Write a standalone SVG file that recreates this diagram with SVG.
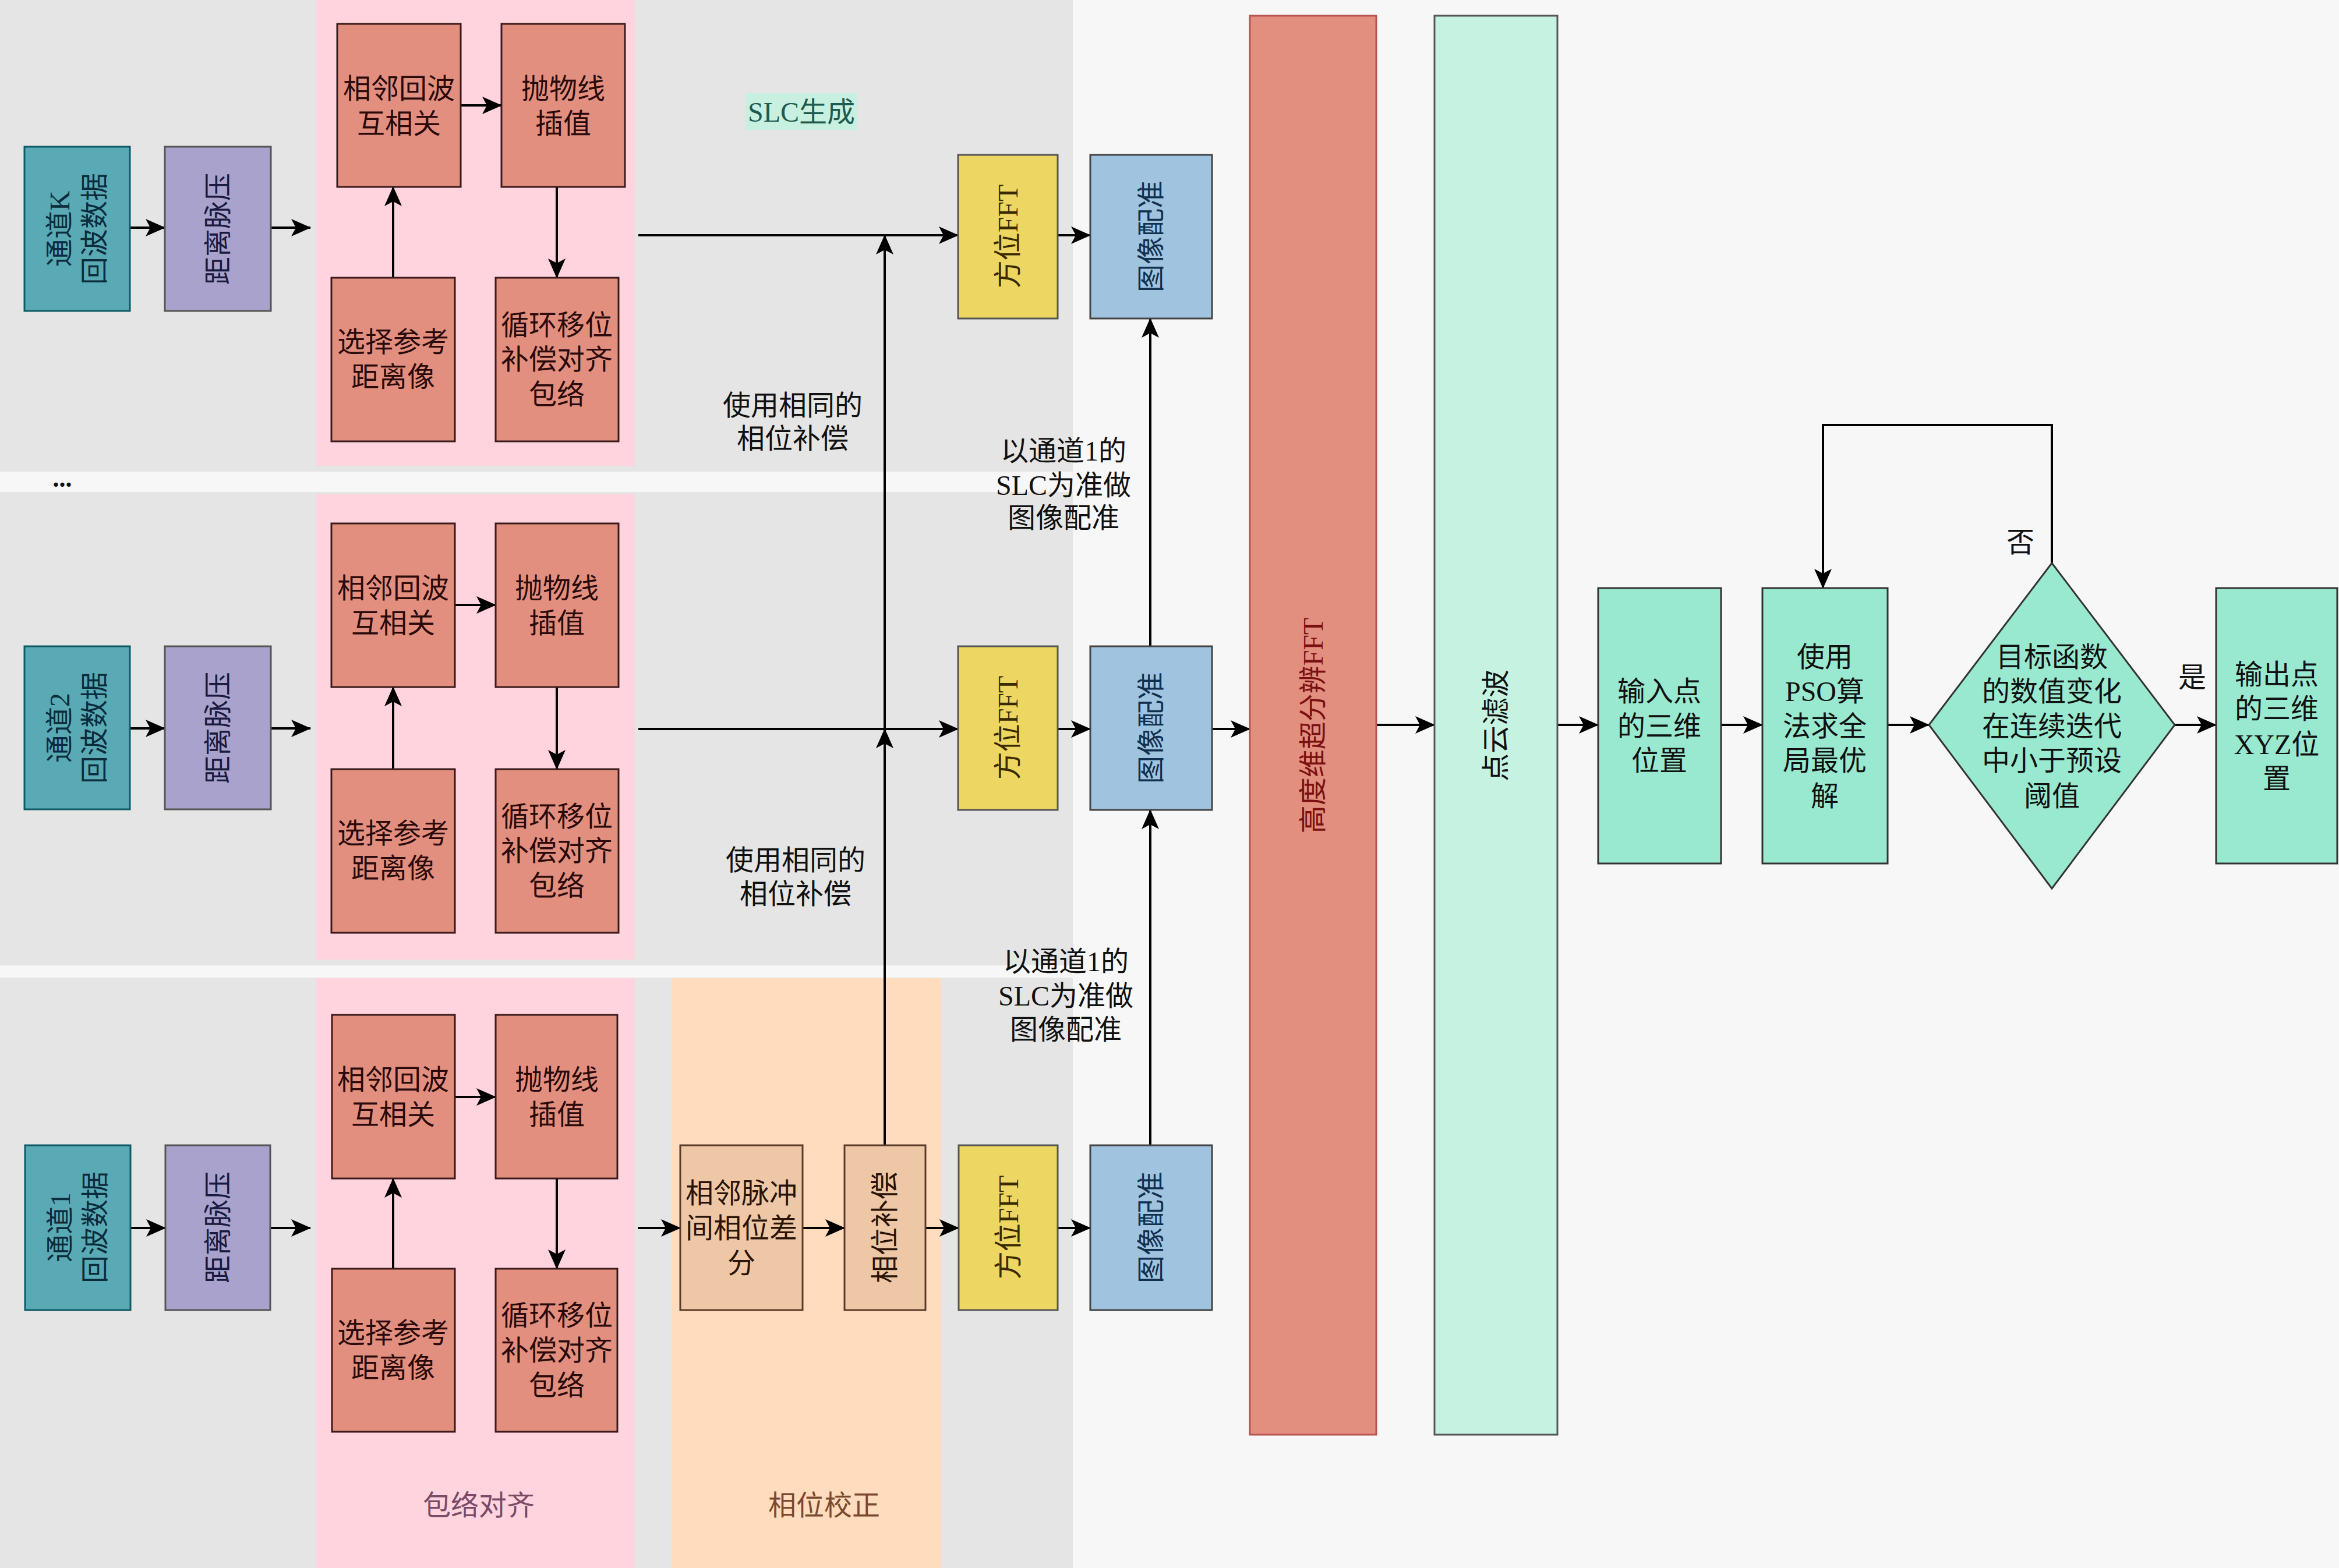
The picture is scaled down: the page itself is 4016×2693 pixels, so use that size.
<svg xmlns="http://www.w3.org/2000/svg" width="4016" height="2693" viewBox="0 0 4016 2693">
<defs>
<marker id="arr" markerWidth="34" markerHeight="30" refX="33" refY="15" orient="auto" markerUnits="userSpaceOnUse"><path d="M0,0 L34,15 L0,30 L8,15 Z" fill="#000"/></marker>
<style>
text{font-family:"Liberation Serif","Noto Sans CJK SC",serif;font-size:48px;text-anchor:middle;}
.teal{fill:#5aaab6;stroke:#0e5a66;stroke-width:3}
.lav{fill:#a8a2cd;stroke:#555;stroke-width:3}
.sal{fill:#e28f80;stroke:#3a1a1a;stroke-width:3}
.pch{fill:#eec7a6;stroke:#5a3a2a;stroke-width:3}
.yel{fill:#eed662;stroke:#555;stroke-width:3}
.blu{fill:#a0c3e0;stroke:#444;stroke-width:3}
.red{fill:#e28f80;stroke:#b85450;stroke-width:3}
.pcl{fill:#c6f2e1;stroke:#555;stroke-width:3}
.mnt{fill:#98e9cf;stroke:#333;stroke-width:3}
.tt{fill:#0b2c3c}
.tl{fill:#1a1a40}
.ts{fill:#2a0a0a}
.tp{fill:#2a1408}
.ty{fill:#3a2a00}
.tb{fill:#10304e}
.tr{fill:#7a1010}
.tk{fill:#111}
.ln{stroke:#000;stroke-width:4;fill:none}
.ar{stroke:#000;stroke-width:4;fill:none;marker-end:url(#arr)}
</style>
</defs>
<rect x="0" y="0" width="4016" height="2693" fill="#f7f7f7"/>
<g id="panels">
<rect x="0" y="0" width="1842" height="810" fill="#e5e5e5"/>
<rect x="0" y="845" width="1842" height="813" fill="#e5e5e5"/>
<rect x="0" y="1679" width="1842" height="1014" fill="#e5e5e5"/>
<rect x="542" y="0" width="548" height="800" fill="#ffd4de"/>
<rect x="542" y="848" width="548" height="800" fill="#ffd4de"/>
<rect x="542" y="1680" width="548" height="1013" fill="#ffd4de"/>
<rect x="1153" y="1680" width="463" height="1013" fill="#fedcbd"/>
</g>
<g id="labels">
<rect x="1280" y="160" width="192" height="63" fill="#c8f0e0"/>
<text x="1376" y="209" fill="#1e5a4e">SLC生成</text>
<text x="1361" y="713" class="tk">使用相同的</text>
<text x="1361" y="770" class="tk">相位补偿</text>
<text x="1366" y="1494" class="tk">使用相同的</text>
<text x="1366" y="1552" class="tk">相位补偿</text>
<text x="1826" y="791" class="tk">以通道1的</text>
<text x="1826" y="850" class="tk">SLC为准做</text>
<text x="1826" y="906" class="tk">图像配准</text>
<text x="1830" y="1668" class="tk">以通道1的</text>
<text x="1830" y="1727" class="tk">SLC为准做</text>
<text x="1830" y="1785" class="tk">图像配准</text>
<text x="822" y="2602" fill="#7a4a66">包络对齐</text>
<text x="1415" y="2602" fill="#7a4a30">相位校正</text>
<text x="107" y="836" class="tk" style="font-size:44px;font-weight:bold">...</text>
<text x="3469" y="948" class="tk">否</text>
<text x="3764" y="1180" class="tk">是</text>
</g>
<g id="connectors">
<path class="ar" d="M223,391 H283"/>
<path class="ar" d="M465,391 H533"/>
<path class="ar" d="M791,181 H861"/>
<path class="ar" d="M675,477 V321"/>
<path class="ar" d="M956,321 V477"/>
<path class="ar" d="M1096,404 H1645"/>
<path class="ar" d="M1816,404 H1872"/>
<path class="ar" d="M223,1251 H283"/>
<path class="ar" d="M465,1251 H533"/>
<path class="ar" d="M781,1039 H851"/>
<path class="ar" d="M675,1321 V1180"/>
<path class="ar" d="M956,1180 V1321"/>
<path class="ar" d="M1096,1252 H1645"/>
<path class="ar" d="M1816,1252 H1872"/>
<path class="ar" d="M2081,1252 H2146"/>
<path class="ar" d="M224,2109 H284"/>
<path class="ar" d="M464,2109 H533"/>
<path class="ar" d="M781,1884 H851"/>
<path class="ar" d="M675,2179 V2024"/>
<path class="ar" d="M956,2024 V2179"/>
<path class="ar" d="M1095,2109 H1168"/>
<path class="ar" d="M1378,2109 H1450"/>
<path class="ar" d="M1589,2109 H1646"/>
<path class="ar" d="M1816,2109 H1872"/>
<path class="ar" d="M1519,1967 V1252"/>
<path class="ar" d="M1519,1252 V404"/>
<path class="ar" d="M1975,1967 V1391"/>
<path class="ar" d="M1975,1110 V547"/>
<path class="ar" d="M2363,1245 H2463"/>
<path class="ar" d="M2674,1245 H2744"/>
<path class="ar" d="M2955,1245 H3026"/>
<path class="ar" d="M3241,1245 H3312"/>
<path class="ar" d="M3734,1245 H3805"/>
<path class="ar" d="M3523,967 V730 H3130 V1010"/>
</g>
<!-- Row K -->
<g id="chK"><rect class="teal" x="42" y="252" width="181" height="282"/><g transform="translate(132,393) rotate(-90)"><text y="-13" class="tt">通道K</text><text y="47" class="tt">回波数据</text></g></g>
<g id="rcK"><rect class="lav" x="283" y="252" width="182" height="282"/><g transform="translate(374,393) rotate(-90)"><text y="17" class="tl">距离脉压</text></g></g>
<g id="xcK"><rect class="sal" x="579" y="41" width="212" height="280"/><text x="685" y="169" class="ts">相邻回波</text><text x="685" y="229" class="ts">互相关</text></g>
<g id="piK"><rect class="sal" x="861" y="41" width="212" height="280"/><text x="967" y="169" class="ts">抛物线</text><text x="967" y="229" class="ts">插值</text></g>
<g id="refK"><rect class="sal" x="569" y="477" width="212" height="281"/><text x="675" y="604" class="ts">选择参考</text><text x="675" y="664" class="ts">距离像</text></g>
<g id="shK"><rect class="sal" x="851" y="477" width="211" height="281"/><text x="956" y="575" class="ts">循环移位</text><text x="956" y="634" class="ts">补偿对齐</text><text x="956" y="694" class="ts">包络</text></g>
<g id="fftK"><rect class="yel" x="1645" y="266" width="171" height="281"/><g transform="translate(1730,406) rotate(-90)"><text y="17" class="ty">方位FFT</text></g></g>
<g id="regK"><rect class="blu" x="1872" y="266" width="209" height="281"/><g transform="translate(1976,406) rotate(-90)"><text y="17" class="tb">图像配准</text></g></g>
<!-- Row 2 -->
<g id="ch2"><rect class="teal" x="42" y="1110" width="181" height="280"/><g transform="translate(132,1250) rotate(-90)"><text y="-13" class="tt">通道2</text><text y="47" class="tt">回波数据</text></g></g>
<g id="rc2"><rect class="lav" x="283" y="1110" width="182" height="280"/><g transform="translate(374,1250) rotate(-90)"><text y="17" class="tl">距离脉压</text></g></g>
<g id="xc2"><rect class="sal" x="569" y="899" width="212" height="281"/><text x="675" y="1027" class="ts">相邻回波</text><text x="675" y="1087" class="ts">互相关</text></g>
<g id="pi2"><rect class="sal" x="851" y="899" width="211" height="281"/><text x="956" y="1027" class="ts">抛物线</text><text x="956" y="1087" class="ts">插值</text></g>
<g id="ref2"><rect class="sal" x="569" y="1321" width="212" height="281"/><text x="675" y="1448" class="ts">选择参考</text><text x="675" y="1508" class="ts">距离像</text></g>
<g id="sh2"><rect class="sal" x="851" y="1321" width="211" height="281"/><text x="956" y="1419" class="ts">循环移位</text><text x="956" y="1478" class="ts">补偿对齐</text><text x="956" y="1538" class="ts">包络</text></g>
<g id="fft2"><rect class="yel" x="1645" y="1110" width="171" height="281"/><g transform="translate(1730,1250) rotate(-90)"><text y="17" class="ty">方位FFT</text></g></g>
<g id="reg2"><rect class="blu" x="1872" y="1110" width="209" height="281"/><g transform="translate(1976,1250) rotate(-90)"><text y="17" class="tb">图像配准</text></g></g>
<!-- Row 1 -->
<g id="ch1"><rect class="teal" x="43" y="1967" width="181" height="283"/><g transform="translate(133,2108) rotate(-90)"><text y="-13" class="tt">通道1</text><text y="47" class="tt">回波数据</text></g></g>
<g id="rc1"><rect class="lav" x="284" y="1967" width="180" height="283"/><g transform="translate(374,2108) rotate(-90)"><text y="17" class="tl">距离脉压</text></g></g>
<g id="xc1"><rect class="sal" x="570" y="1743" width="211" height="281"/><text x="675" y="1871" class="ts">相邻回波</text><text x="675" y="1931" class="ts">互相关</text></g>
<g id="pi1"><rect class="sal" x="851" y="1743" width="209" height="281"/><text x="956" y="1871" class="ts">抛物线</text><text x="956" y="1931" class="ts">插值</text></g>
<g id="ref1"><rect class="sal" x="570" y="2179" width="211" height="280"/><text x="675" y="2306" class="ts">选择参考</text><text x="675" y="2366" class="ts">距离像</text></g>
<g id="sh1"><rect class="sal" x="851" y="2179" width="209" height="280"/><text x="956" y="2276" class="ts">循环移位</text><text x="956" y="2336" class="ts">补偿对齐</text><text x="956" y="2396" class="ts">包络</text></g>
<g id="pd1"><rect class="pch" x="1168" y="1967" width="210" height="283"/><text x="1273" y="2066" class="tp">相邻脉冲</text><text x="1273" y="2126" class="tp">间相位差</text><text x="1273" y="2186" class="tp">分</text></g>
<g id="pc1"><rect class="pch" x="1450" y="1967" width="139" height="283"/><g transform="translate(1519,2108) rotate(-90)"><text y="17" class="tp">相位补偿</text></g></g>
<g id="fft1"><rect class="yel" x="1646" y="1967" width="170" height="283"/><g transform="translate(1731,2108) rotate(-90)"><text y="17" class="ty">方位FFT</text></g></g>
<g id="reg1"><rect class="blu" x="1872" y="1967" width="209" height="283"/><g transform="translate(1976,2108) rotate(-90)"><text y="17" class="tb">图像配准</text></g></g>
<!-- Right side -->
<g id="hfft"><rect class="red" x="2146" y="27" width="217" height="2437"/><g transform="translate(2254,1246) rotate(-90)"><text y="17" class="tr">高度维超分辨FFT</text></g></g>
<g id="pcf"><rect class="pcl" x="2463" y="27" width="211" height="2437"/><g transform="translate(2568,1246) rotate(-90)"><text y="17" class="tk">点云滤波</text></g></g>
<g id="inp"><rect class="mnt" x="2744" y="1010" width="211" height="473"/><text x="2849" y="1204" class="tk">输入点</text><text x="2849" y="1264" class="tk">的三维</text><text x="2849" y="1323" class="tk">位置</text></g>
<g id="pso"><rect class="mnt" x="3026" y="1010" width="215" height="473"/><text x="3133" y="1145" class="tk">使用</text><text x="3133" y="1204" class="tk">PSO算</text><text x="3133" y="1264" class="tk">法求全</text><text x="3133" y="1323" class="tk">局最优</text><text x="3133" y="1384" class="tk">解</text></g>
<g id="dec"><path class="mnt" d="M3523,967 L3734,1245 L3523,1526 L3312,1245 Z"/><text x="3523" y="1145" class="tk">目标函数</text><text x="3523" y="1204" class="tk">的数值变化</text><text x="3523" y="1264" class="tk">在连续迭代</text><text x="3523" y="1323" class="tk">中小于预设</text><text x="3523" y="1384" class="tk">阈值</text></g>
<g id="out"><rect class="mnt" x="3805" y="1010" width="208" height="473"/><text x="3909" y="1175" class="tk">输出点</text><text x="3909" y="1234" class="tk">的三维</text><text x="3909" y="1295" class="tk">XYZ位</text><text x="3909" y="1354" class="tk">置</text></g>
</svg>
